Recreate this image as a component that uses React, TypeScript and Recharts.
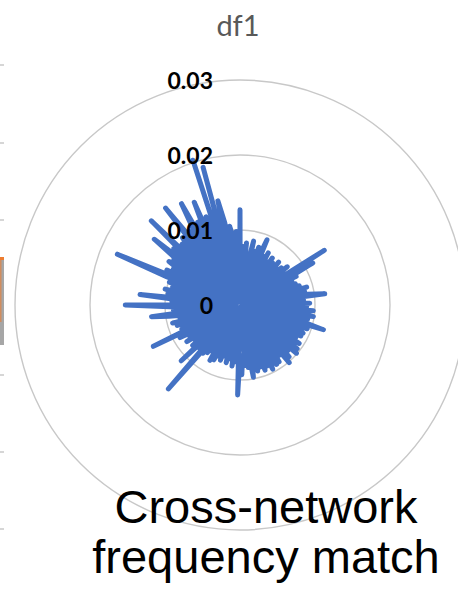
import { RadarChart, Radar, PolarGrid, PolarAngleAxis, PolarRadiusAxis } from 'recharts'

// df1 frequency shares, one value per node, clockwise from 12 o'clock
const df1 = [
    0.0127, 0.0011, 0.0078, 0.0045, 0.0083, 0.0004, 0.0069, 0.0058, 0.0087, 0.0016, 0.0074, 0.0049,
    0.0081, 0.0007, 0.0066, 0.0094, 0.0023, 0.0072, 0.0051, 0.0079, 0.0009, 0.0068, 0.0034, 0.0076,
    0.0015, 0.0071, 0.0062, 0.0003, 0.0077, 0.0048, 0.0069, 0.0019, 0.0074, 0.0056, 0.0081, 0.0008,
    0.0072, 0.0046, 0.0134, 0.0013, 0.0112, 0.0063, 0.0084, 0.0005, 0.0076, 0.0054, 0.0079, 0.0021,
    0.0083, 0.0010, 0.0092, 0.0067, 0.0088, 0.0026, 0.0091, 0.0114, 0.0006, 0.0085, 0.0071, 0.0093,
    0.0037, 0.0089, 0.0012, 0.0098, 0.0073, 0.0082, 0.0099, 0.0018, 0.0092, 0.0065, 0.0087, 0.0116,
    0.0004, 0.0095, 0.0059, 0.0084, 0.0092, 0.0014, 0.0091, 0.0068, 0.0086, 0.0024, 0.0094, 0.0077,
    0.0008, 0.0096, 0.0062, 0.0099, 0.0017, 0.0088, 0.0073, 0.0095, 0.0031, 0.0101, 0.0005, 0.0085,
    0.0068, 0.0092, 0.0020, 0.0093, 0.0059, 0.0081, 0.0096, 0.0009, 0.0089, 0.0065, 0.0093, 0.0027,
    0.0087, 0.0072, 0.0091, 0.0011, 0.0079, 0.0098, 0.0039, 0.0084, 0.0003, 0.0081, 0.0067, 0.0093,
    0.0068, 0.0120, 0.0016, 0.0076, 0.0059, 0.0082, 0.0007, 0.0073, 0.0065, 0.0079, 0.0022, 0.0071,
    0.0054, 0.0078, 0.0010, 0.0074, 0.0062, 0.0081, 0.0029, 0.0084, 0.0004, 0.0072, 0.0058, 0.0077,
    0.0019, 0.0081, 0.0066, 0.0147, 0.0008, 0.0079, 0.0057, 0.0108, 0.0025, 0.0083, 0.0012, 0.0076,
    0.0061, 0.0086, 0.0006, 0.0079, 0.0068, 0.0091, 0.0015, 0.0128, 0.0053, 0.0084, 0.0071, 0.0021,
    0.0088, 0.0062, 0.0093, 0.0009, 0.0082, 0.0074, 0.0096, 0.0119, 0.0030, 0.0089, 0.0067, 0.0094,
    0.0153, 0.0013, 0.0091, 0.0076, 0.0134, 0.0036, 0.0097, 0.0063, 0.0102, 0.0005, 0.0093, 0.0071,
    0.0099, 0.0024, 0.0104, 0.0177, 0.0046, 0.0108, 0.0011, 0.0101, 0.0092, 0.0111, 0.0033, 0.0107,
    0.0108, 0.0144, 0.0018, 0.0116, 0.0094, 0.0163, 0.0007, 0.0112, 0.0101, 0.0118, 0.0024, 0.0163,
    0.0104, 0.0119, 0.0006, 0.0121, 0.0156, 0.0014, 0.0124, 0.0107, 0.0150, 0.0009, 0.0126, 0.0005,
    0.0203, 0.0012, 0.0190, 0.0021, 0.0142, 0.0112, 0.0008, 0.0106, 0.0093, 0.0004, 0.0098, 0.0012,
]

const radiusTicks = [0, 0.01, 0.02, 0.03]
const title = 'df1'
const caption = ['Cross-network', 'frequency match']

const data = df1.map((v, i) => ({ node: i + 1, v }))

const RadiusTick = (props: any) => {
    const { x, y, payload } = props
    const label = payload.value === 0 ? '0' : Number(payload.value).toFixed(2)
    return (
        <text x={x - 27} y={y} textAnchor="end" dominantBaseline="central"
            fontFamily="Lato, sans-serif" fontWeight="bold" fontSize={23} fill="#000">
            {label}
        </text>
    )
}

// bits of the neighbouring panel that show at the left edge
const edgeTicks = [65, 143, 220, 375, 452, 529]

const App = () => {
    return (
        <div style={{ position: 'absolute', left: 0, top: 0, width: 458, height: 590, overflow: 'hidden', background: '#fff' }}>
            <RadarChart width={458} height={590} data={data} cx={240} cy={305} outerRadius={225}
                startAngle={90} endAngle={-270} margin={{ top: 0, right: 0, bottom: 0, left: 0 }}>
                <PolarGrid gridType="circle" radialLines={false} stroke="#c8c8c8" strokeWidth={1.4} />
                <PolarAngleAxis dataKey="node" tick={false} axisLine={false} />
                <Radar dataKey="v" stroke="#4472C4" strokeWidth={5} fill="none" fillOpacity={0}
                    strokeLinejoin="round" strokeLinecap="round" dot={false} isAnimationActive={false} />
                <PolarRadiusAxis angle={90} domain={[0, 0.03]} ticks={radiusTicks} tickCount={4}
                    axisLine={false} tickLine={false} tick={RadiusTick} />
            </RadarChart>
            <svg width={458} height={590} style={{ position: 'absolute', left: 0, top: 0, pointerEvents: 'none' }}>
                <text x={238} y={36} textAnchor="middle" fontFamily="Lato, sans-serif" fontSize={29} fill="#595959">
                    {title}
                </text>
                {caption.map((line, i) => (
                    <text key={line} x={266} y={523 + i * 50} textAnchor="middle"
                        fontFamily="'Liberation Sans', Arial, sans-serif" fontSize={47} fill="#000">
                        {line}
                    </text>
                ))}
                {edgeTicks.map(t => (
                    <line key={t} x1={0} x2={4} y1={t} y2={t} stroke="#c8c8c8" strokeWidth={1.5} />
                ))}
                <rect x={0} y={257} width={4} height={88} fill="#a6a6a6" />
                <rect x={0} y={257} width={4} height={3} fill="#ED7D31" />
                <rect x={0} y={257} width={1.5} height={65} fill="#ED7D31" opacity={0.6} />
            </svg>
        </div>
    )
}

export default App
